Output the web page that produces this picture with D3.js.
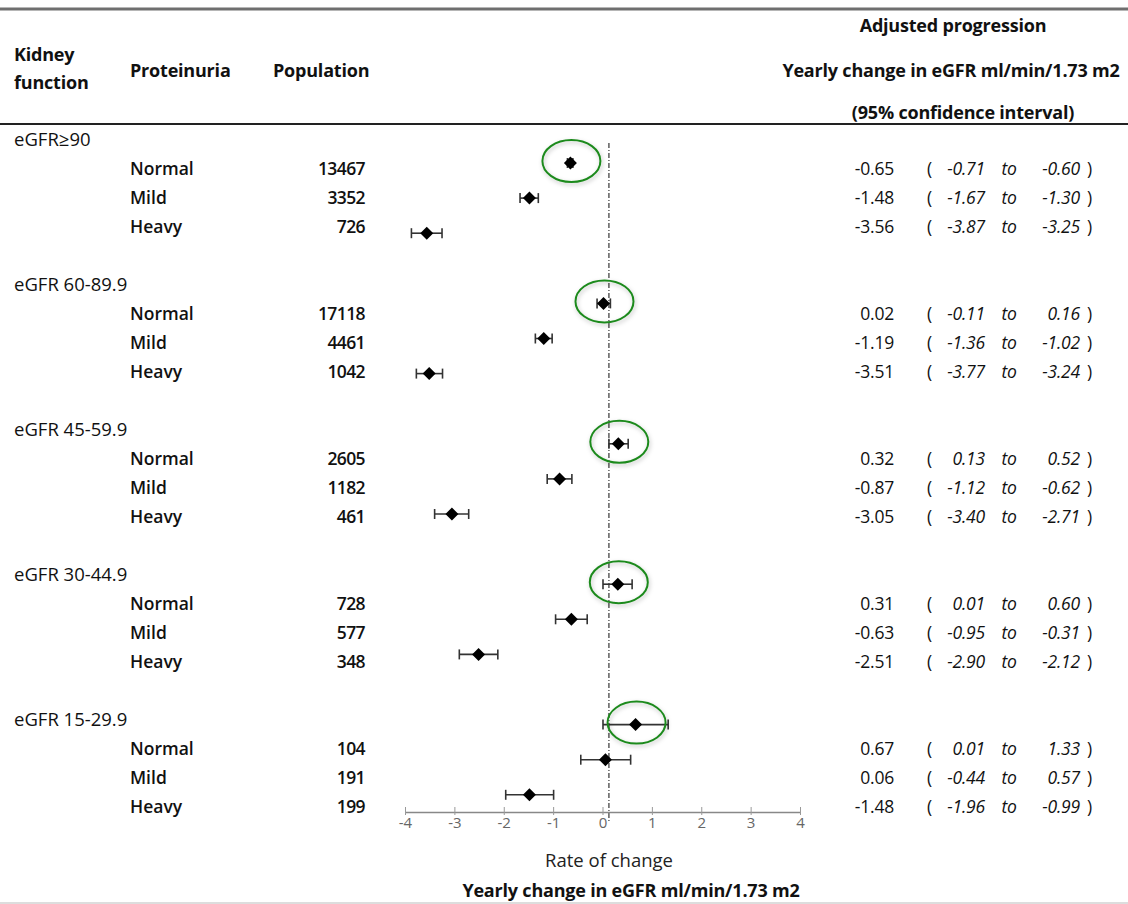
<!DOCTYPE html>
<html><head><meta charset="utf-8">
<script src="https://cdn.jsdelivr.net/npm/d3@7"></script>
<style>
html,body{margin:0;padding:0;background:#fff;}
svg{display:block;font-family:"Open Sans",Lato,sans-serif;}
</style></head>
<body><svg id="chart" width="1128" height="904"></svg>
<script>
const groups = ["eGFR\u226590","eGFR 60-89.9","eGFR 45-59.9","eGFR 30-44.9","eGFR 15-29.9"];
const proteinuria = ["Normal","Mild","Heavy"];
const population = [13467,3352,726,17118,4461,1042,2605,1182,461,728,577,348,104,191,199];
const estimate = [-0.65,-1.48,-3.56,0.02,-1.19,-3.51,0.32,-0.87,-3.05,0.31,-0.63,-2.51,0.67,0.06,-1.48];
const lower = [-0.71,-1.67,-3.87,-0.11,-1.36,-3.77,0.13,-1.12,-3.40,0.01,-0.95,-2.90,0.01,-0.44,-1.96];
const upper = [-0.60,-1.30,-3.25,0.16,-1.02,-3.24,0.52,-0.62,-2.71,0.60,-0.31,-2.12,1.33,0.57,-0.99];
const xTicks = [-4,-3,-2,-1,0,1,2,3,4];
const refValue = 0.13;

const svg = d3.select("#chart");
const defs = svg.append("defs");
const f = defs.append("filter").attr("id","shadow").attr("x","-30%").attr("y","-30%").attr("width","160%").attr("height","170%");
f.append("feDropShadow").attr("dx",1).attr("dy",2).attr("stdDeviation",2).attr("flood-color","#000").attr("flood-opacity",0.25);

const x = d3.scaleLinear().domain([-4,4]).range([405,800]);
const yText = d3.scaleLinear().domain([0,24]).range([140,140+24*29]);
const yMark = d3.scaleLinear().domain([0,19]).range([163,163+19*35.1]);

const rows = population.map((p,i)=>{
  const g = Math.floor(i/3), r = i%3;
  return {g, r, label: proteinuria[r], pop: p, est: estimate[i], lo: lower[i], hi: upper[i],
          ti: g*5 + r + 1, mi: g*4 + r};
});

const f2 = d3.format(".2f");
const fmt = v => f2(v).replace("\u2212","-");

// rules
svg.append("line").attr("x1",0).attr("x2",1128).attr("y1",9).attr("y2",9).attr("stroke","#6f6f6f").attr("stroke-width",3);
svg.append("line").attr("x1",0).attr("x2",1128).attr("y1",124).attr("y2",124).attr("stroke","#222").attr("stroke-width",2);
svg.append("line").attr("x1",0).attr("x2",1128).attr("y1",903).attr("y2",903).attr("stroke","#bbb").attr("stroke-width",1);

// header
const hdr = svg.append("g").attr("font-weight",700).attr("font-size",18).attr("fill","#111").attr("letter-spacing","-0.2");
hdr.append("text").attr("x",14).attr("y",61).text("Kidney");
hdr.append("text").attr("x",14).attr("y",89).text("function");
hdr.append("text").attr("x",130).attr("y",77).text("Proteinuria");
hdr.append("text").attr("x",273).attr("y",77).text("Population");
hdr.append("text").attr("x",953).attr("y",32).attr("text-anchor","middle").text("Adjusted progression");
hdr.append("text").attr("x",951).attr("y",77).attr("text-anchor","middle").text("Yearly change in eGFR ml/min/1.73 m2");
hdr.append("text").attr("x",963).attr("y",119).attr("text-anchor","middle").text("(95% confidence interval)");

// group labels
svg.append("g").selectAll("text").data(groups).join("text")
  .attr("x",14).attr("y",(d,i)=>yText(i*5)+6).attr("font-size",18.5).attr("fill","#111").text(d=>d);

// row labels and populations
const rl = svg.append("g").attr("font-size",17.5).attr("font-weight",600).attr("fill","#111");
rl.selectAll(".lab").data(rows).join("text").attr("class","lab")
  .attr("x",130).attr("y",d=>yText(d.ti)+6).text(d=>d.label);
rl.selectAll(".pop").data(rows).join("text").attr("class","pop")
  .attr("x",365).attr("y",d=>yText(d.ti)+6).attr("text-anchor","end").attr("letter-spacing","-0.6").text(d=>d.pop);

// values
const vg = svg.append("g").attr("font-size",17.5).attr("fill","#111").attr("letter-spacing","-0.2");
vg.selectAll(".est").data(rows).join("text").attr("class","est")
  .attr("x",894).attr("y",d=>yText(d.ti)+6).attr("text-anchor","end").text(d=>fmt(d.est));
vg.selectAll(".op").data(rows).join("text").attr("class","op")
  .attr("x",927).attr("y",d=>yText(d.ti)+6).text("(");
vg.selectAll(".lo").data(rows).join("text").attr("class","lo")
  .attr("x",985).attr("y",d=>yText(d.ti)+6).attr("text-anchor","end").attr("font-style","italic").text(d=>fmt(d.lo));
vg.selectAll(".to").data(rows).join("text").attr("class","to")
  .attr("x",1009).attr("y",d=>yText(d.ti)+6).attr("text-anchor","middle").attr("font-style","italic").text("to");
vg.selectAll(".hi").data(rows).join("text").attr("class","hi")
  .attr("x",1080).attr("y",d=>yText(d.ti)+6).attr("text-anchor","end").attr("font-style","italic").text(d=>fmt(d.hi));
vg.selectAll(".cp").data(rows).join("text").attr("class","cp")
  .attr("x",1087).attr("y",d=>yText(d.ti)+6).text(")");

// reference line
svg.append("line").attr("x1",x(refValue)).attr("x2",x(refValue)).attr("y1",143).attr("y2",822)
  .attr("stroke","#444").attr("stroke-width",1.3).attr("stroke-dasharray","5,2,1,2");

// axis
const axis = d3.axisBottom(x).tickValues(xTicks).tickSize(0).tickPadding(5).tickFormat(d=>String(d));
const ax = svg.append("g").attr("transform","translate(0,812)").call(axis);
ax.select(".domain").attr("stroke","#888").attr("stroke-width",1.5);
ax.selectAll(".tick text").attr("font-size",15).attr("fill","#666").attr("font-family","\"Open Sans\", sans-serif");
ax.selectAll(".tick").append("line").attr("y1",-5).attr("y2",3).attr("stroke","#999").attr("stroke-width",1);

svg.append("text").attr("x",609).attr("y",867).attr("text-anchor","middle").attr("font-size",18.5).attr("fill","#222").text("Rate of change");
svg.append("text").attr("x",631).attr("y",897).attr("text-anchor","middle").attr("font-size",18).attr("font-weight",700).attr("letter-spacing","-0.2").attr("fill","#111").text("Yearly change in eGFR ml/min/1.73 m2");

// error bars
const eb = svg.append("g").attr("stroke","#333").attr("stroke-width",1.6);
eb.selectAll(".ci").data(rows).join("line").attr("class","ci")
  .attr("x1",d=>x(d.lo)).attr("x2",d=>x(d.hi)).attr("y1",d=>yMark(d.mi)).attr("y2",d=>yMark(d.mi));
eb.selectAll(".cl").data(rows).join("line").attr("class","cl")
  .attr("x1",d=>x(d.lo)).attr("x2",d=>x(d.lo)).attr("y1",d=>yMark(d.mi)-5).attr("y2",d=>yMark(d.mi)+5);
eb.selectAll(".ch").data(rows).join("line").attr("class","ch")
  .attr("x1",d=>x(d.hi)).attr("x2",d=>x(d.hi)).attr("y1",d=>yMark(d.mi)-5).attr("y2",d=>yMark(d.mi)+5);

// diamonds
const s = 6.5;
svg.append("g").selectAll("path").data(rows).join("path")
  .attr("d",d=>{const cx=x(d.est), cy=yMark(d.mi); return `M${cx},${cy-s}L${cx+s},${cy}L${cx},${cy+s}L${cx-s},${cy}Z`;})
  .attr("fill","#000");

// highlight ellipses around Normal rows
svg.append("g").selectAll("ellipse").data(rows.filter(d=>d.r===0)).join("ellipse")
  .attr("cx",d=>x(d.est)+1).attr("cy",d=>yMark(d.mi)-2).attr("rx",29).attr("ry",21)
  .attr("fill","none").attr("stroke","#1e8a1e").attr("stroke-width",2).attr("filter","url(#shadow)");
</script></body></html>
